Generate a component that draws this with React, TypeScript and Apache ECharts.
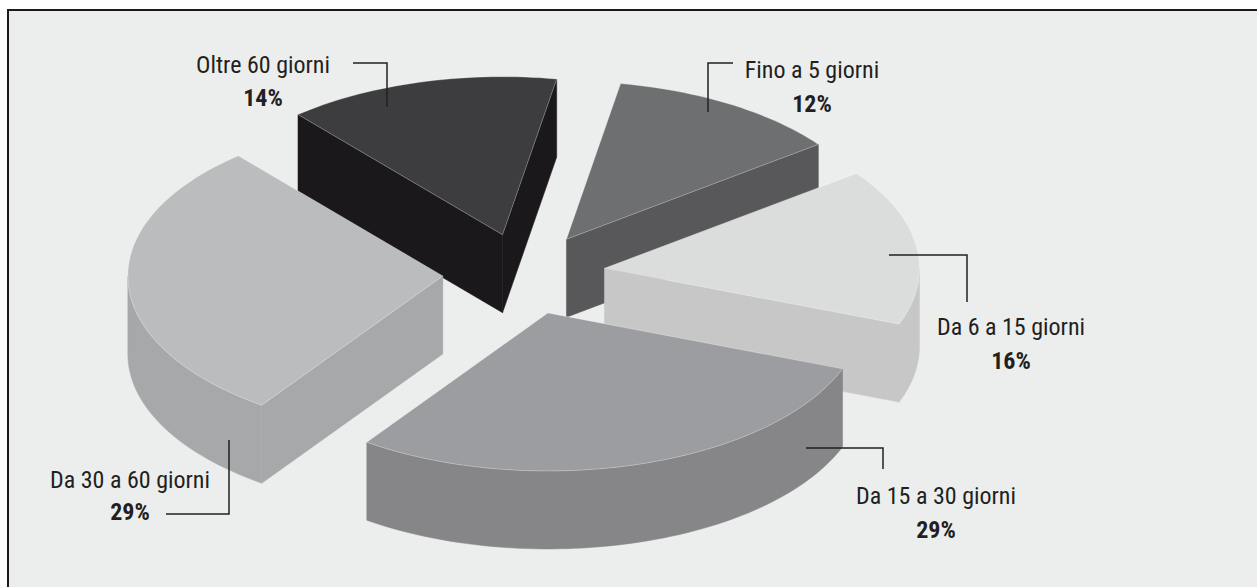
import React, { useEffect, useRef } from "react";
import * as echarts from "echarts";

// ---- data ----
const categories = [
  "Da 15 a 30 giorni",
  "Da 30 a 60 giorni",
  "Oltre 60 giorni",
  "Fino a 5 giorni",
  "Da 6 a 15 giorni",
];
const values = [29, 29, 14, 12, 16];

// ---- palette ----
const topColors = ["#9c9da0", "#bbbcbe", "#3d3d3f", "#6e6f71", "#dbdcdc"];
const sideColors = ["#868688", "#a7a8aa", "#1a181b", "#58585a", "#c7c7c8"];

// ---- geometry of the 3D pie ----
const CX = 524;
const CY = 274;
const RX = 315;
const RY = 158;
const DEPTH = 78;
const EXPLODE = 0.258;
const START_DEG = 20.7;

// label layout: [centerX, line1Y, line2Y]
const labelPos: number[][] = [
  [936, 496, 530],
  [130, 480, 512],
  [263, 65, 98],
  [812, 70, 104],
  [1011, 327, 361],
];
const leaderLines: number[][][] = [
  [[806, 448], [883, 448], [883, 469]],
  [[166, 514], [229, 514], [229, 440]],
  [[353, 63], [387, 63], [387, 107]],
  [[733, 63], [708, 63], [708, 112]],
  [[889, 255], [967, 255], [967, 302]],
];

const FONT = "'Liberation Sans Narrow', 'Roboto Condensed', 'DejaVu Sans Condensed', Arial, sans-serif";
const TEXT_COLOR = "#231f20";

export default function App() {
  const ref = useRef<HTMLDivElement>(null);

  useEffect(() => {
    if (!ref.current) return;
    const chart = echarts.init(ref.current, undefined, { renderer: "svg" });
    const total = values.reduce((s, v) => s + v, 0);

    // depth order for painter's algorithm
    const mids = values.map((_, i) => {
      let acc = 0;
      for (let j = 0; j < i; j++) acc += values[j];
      const t1 = START_DEG + (acc / total) * 360;
      const t2 = t1 + (values[i] / total) * 360;
      return Math.sin((((t1 + t2) / 2) * Math.PI) / 180);
    });
    const order = mids.map((m, i) => ({ m, i })).sort((a, b) => a.m - b.m);
    const rank: number[] = [];
    order.forEach((o, r) => (rank[o.i] = r));

    const renderItem = (params: any, api: any) => {
      const i = params.dataIndex;
      let acc = 0;
      for (let j = 0; j < i; j++) acc += values[j];
      const v = api.value(1);
      const t1 = ((START_DEG + (acc / total) * 360) * Math.PI) / 180;
      const t2 = t1 + (v / total) * Math.PI * 2;
      const mid = (t1 + t2) / 2;
      const ax = CX + EXPLODE * RX * Math.cos(mid);
      const ay = CY + EXPLODE * RY * Math.sin(mid);
      const pt = (t: number, dy: number) => [ax + RX * Math.cos(t), ay + RY * Math.sin(t) + dy];
      const arc = (a: number, b: number, dy: number) => {
        const n = Math.max(4, Math.ceil(((b - a) * 180) / Math.PI / 1.5));
        const pts: number[][] = [];
        for (let k = 0; k <= n; k++) pts.push(pt(a + ((b - a) * k) / n, dy));
        return pts;
      };
      const base = rank[i] * 10;
      const children: any[] = [];
      const side = sideColors[i];
      // outer wall: visible where sin > 0
      for (const off of [0, 2 * Math.PI, -2 * Math.PI]) {
        const a = Math.max(t1, off);
        const b = Math.min(t2, off + Math.PI);
        if (b > a) {
          const top = arc(a, b, 0);
          const bot = arc(a, b, DEPTH).reverse();
          children.push({
            type: "polygon",
            z2: base,
            shape: { points: top.concat(bot) },
            style: { fill: side, stroke: side, lineWidth: 0.5 },
          });
        }
      }
      // radial faces
      if (Math.cos(t1) < 0) {
        const p = pt(t1, 0);
        children.push({
          type: "polygon",
          z2: base + 1,
          shape: { points: [[ax, ay], p, [p[0], p[1] + DEPTH], [ax, ay + DEPTH]] },
          style: { fill: side, stroke: side, lineWidth: 0.5 },
        });
      }
      if (Math.cos(t2) > 0) {
        const p = pt(t2, 0);
        children.push({
          type: "polygon",
          z2: base + 1,
          shape: { points: [[ax, ay], p, [p[0], p[1] + DEPTH], [ax, ay + DEPTH]] },
          style: { fill: side, stroke: side, lineWidth: 0.5 },
        });
      }
      // top face
      children.push({
        type: "polygon",
        z2: base + 5,
        shape: { points: [[ax, ay]].concat(arc(t1, t2, 0)) },
        style: { fill: topColors[i], stroke: "rgba(255,255,255,0.35)", lineWidth: 0.8 },
      });
      return { type: "group", children };
    };

    const graphics: any[] = [
      {
        type: "rect",
        z: 0,
        silent: true,
        shape: { x: 8, y: 10, width: 1262, height: 590 },
        style: { fill: "#eceeed", stroke: "#1a1a1a", lineWidth: 2 },
      },
    ];
    categories.forEach((c, i) => {
      const [x, y1, y2] = labelPos[i];
      graphics.push({
        type: "text",
        z: 10,
        silent: true,
        x,
        y: y1,
        style: {
          text: c,
          fill: TEXT_COLOR,
          font: `normal 24px ${FONT}`,
          textAlign: "center",
          textVerticalAlign: "middle",
        },
      });
      graphics.push({
        type: "text",
        z: 10,
        silent: true,
        x,
        y: y2,
        style: {
          text: `${values[i]}%`,
          fill: TEXT_COLOR,
          font: `bold 24px ${FONT}`,
          textAlign: "center",
          textVerticalAlign: "middle",
        },
      });
      graphics.push({
        type: "polyline",
        z: 10,
        silent: true,
        shape: { points: leaderLines[i] },
        style: { stroke: TEXT_COLOR, lineWidth: 1.5, fill: null },
      });
    });

    chart.setOption({
      animation: false,
      backgroundColor: "#ffffff",
      graphic: graphics,
      series: [
        {
          type: "custom",
          coordinateSystem: "none",
          silent: true,
          z: 5,
          renderItem,
          data: values.map((v, i) => ({ name: categories[i], value: [i, v] })),
        },
      ],
    });
    return () => chart.dispose();
  }, []);

  return (
    <div
      ref={ref}
      style={{ position: "fixed", left: 0, top: 0, width: 1257, height: 587 }}
    />
  );
}
